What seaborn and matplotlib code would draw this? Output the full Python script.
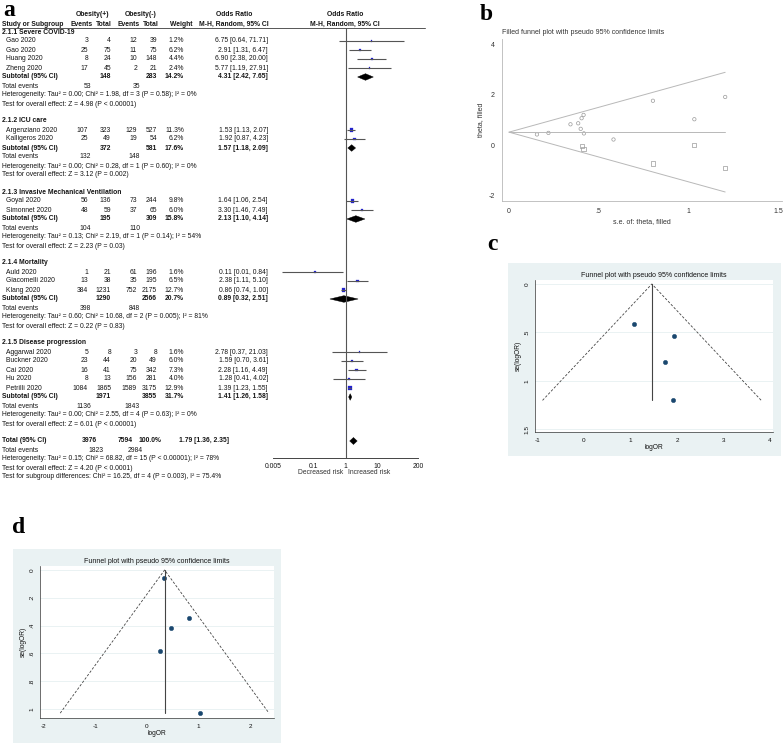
import numpy as np
import pandas as pd
import matplotlib
matplotlib.use("Agg")
import matplotlib.pyplot as plt
import seaborn as sns
from matplotlib.patches import Polygon, Rectangle

sns.set_style("white")
plt.rcParams['font.family'] = ['Liberation Sans', 'DejaVu Sans']

# ---------------- data: forest plot (panel a) ----------------
subgroups = ["2.1.1 Severe COVID-19", "2.1.2 ICU care", "2.1.3 Invasive Mechanical Ventilation",
             "2.1.4 Mortality", "2.1.5 Disease progression"]
studies = ["Gao 2020", "Gao 2020", "Huang 2020", "Zheng 2020", "Argenziano 2020", "Kalligeros 2020",
           "Goyal 2020", "Simonnet 2020", "Auld 2020", "Giacomelli 2020", "Klang 2020",
           "Aggarwal 2020", "Buckner 2020", "Cai 2020", "Hu 2020", "Petrilli 2020"]
study_group = [0, 0, 0, 0, 1, 1, 2, 2, 3, 3, 3, 4, 4, 4, 4, 4]
ev_pos = [3, 25, 8, 17, 107, 25, 56, 48, 1, 13, 384, 5, 23, 16, 8, 1084]
tot_pos = [4, 75, 24, 45, 323, 49, 136, 59, 21, 38, 1231, 8, 44, 41, 13, 1865]
ev_neg = [12, 11, 10, 2, 129, 19, 73, 37, 61, 35, 752, 3, 20, 75, 156, 1589]
tot_neg = [39, 75, 148, 21, 527, 54, 244, 65, 196, 195, 2175, 8, 49, 342, 281, 3175]
weight = [1.2, 6.2, 4.4, 2.4, 11.3, 6.2, 9.8, 6.0, 1.6, 6.5, 12.7, 1.6, 6.0, 7.3, 4.0, 12.9]
or_est = [6.75, 2.91, 6.90, 5.77, 1.53, 1.92, 1.64, 3.30, 0.11, 2.38, 0.86, 2.78, 1.59, 2.28, 1.28, 1.39]
or_lo = [0.64, 1.31, 2.38, 1.19, 1.13, 0.87, 1.06, 1.46, 0.01, 1.11, 0.74, 0.37, 0.70, 1.16, 0.41, 1.23]
or_hi = [71.71, 6.47, 20.00, 27.91, 2.07, 4.23, 2.54, 7.49, 0.84, 5.10, 1.00, 21.03, 3.61, 4.49, 4.02, 1.55]

sub_tot_pos = [148, 372, 195, 1290, 1971]
sub_tot_neg = [283, 581, 309, 2566, 3855]
sub_weight = [14.2, 17.6, 15.8, 20.7, 31.7]
sub_or = [4.31, 1.57, 2.13, 0.89, 1.41]
sub_lo = [2.42, 1.18, 1.10, 0.32, 1.26]
sub_hi = [7.65, 2.09, 4.14, 2.51, 1.58]
sub_ev_pos = [53, 132, 104, 398, 1136]
sub_ev_neg = [35, 148, 110, 848, 1843]
sub_het = ["Tau² = 0.00; Chi² = 1.98, df = 3 (P = 0.58); I² = 0%",
           "Tau² = 0.00; Chi² = 0.28, df = 1 (P = 0.60); I² = 0%",
           "Tau² = 0.13; Chi² = 2.19, df = 1 (P = 0.14); I² = 54%",
           "Tau² = 0.60; Chi² = 10.68, df = 2 (P = 0.005); I² = 81%",
           "Tau² = 0.00; Chi² = 2.55, df = 4 (P = 0.63); I² = 0%"]
sub_z = ["Z = 4.98 (P < 0.00001)", "Z = 3.12 (P = 0.002)", "Z = 2.23 (P = 0.03)",
         "Z = 0.22 (P = 0.83)", "Z = 6.01 (P < 0.00001)"]
total_n = [3976, 7594]
total_events = [1823, 2984]
total_or = [1.79, 1.36, 2.35]
total_het = "Tau² = 0.15; Chi² = 68.82, df = 15 (P < 0.00001); I² = 78%"
total_z = "Z = 4.20 (P < 0.0001)"
subgroup_diff = "Test for subgroup differences: Chi² = 16.25, df = 4 (P = 0.003), I² = 75.4%"
forest_ticks = [0.005, 0.1, 1, 10, 200]
forest_ticklabels = ["0.005", "0.1", "1", "10", "200"]

# ---------------- data: funnel plots ----------------
b_obs_se = [0.156, 0.22, 0.343, 0.386, 0.405, 0.416, 0.40, 0.418, 0.583, 0.803, 1.034, 1.206]
b_obs_theta = [0.43, 0.49, 0.83, 0.87, 1.07, 1.20, 0.65, 0.47, 0.23, 1.76, 1.03, 1.91]
b_fill_se = [0.405, 0.416, 0.803, 1.034, 1.206]
b_fill_theta = [-0.03, -0.16, -0.72, 0.02, -0.88]
b_pooled = 0.52

c_logor = [1.07, 1.93, 1.75, 1.91]
c_se = [0.41, 0.54, 0.80, 1.20]
c_pooled = 1.46

d_logor = [0.33, 0.82, 0.46, 0.25, 1.02]
d_se = [0.06, 0.345, 0.42, 0.58, 1.03]
d_pooled = 0.34

# ---------------- figure ----------------
W, H = 784, 745
fig = plt.figure(figsize=(W / 100, H / 100), dpi=100)


def px_axes(x0, y0, x1, y1):
    return fig.add_axes([x0 / W, 1 - y1 / H, (x1 - x0) / W, (y1 - y0) / H])


ov = px_axes(0, 0, W, H)
ov.set_xlim(0, W)
ov.set_ylim(H, 0)
ov.axis('off')

TXT = '#151515'
FS = 4.85
HFS = 4.85


def t(x, y, s, ha='left', bold=False, color=TXT, fs=FS):
    ov.text(x, y, s, ha=ha, va='center', fontsize=fs, color=color,
            fontweight='bold' if bold else 'normal')


# panel labels
for lab, x, y in [("a", 3, 16), ("b", 480, 20), ("c", 487, 250), ("d", 12, 533)]:
    ov.text(x, y, lab, fontsize=17, fontweight='bold', family=['Liberation Serif', 'DejaVu Serif'],
            va='baseline', ha='left', color='black')

# ---- table columns
X_NAME, X_STUDY = 2, 6
X_EVP, X_TOTP, X_EVN, X_TOTN, X_W, X_OR = 88, 111, 137, 157, 184, 268

# header
t(93, 15, "Obesity(+)", ha='center', bold=True, fs=HFS)
t(141, 15, "Obesity(-)", ha='center', bold=True, fs=HFS)
t(234, 15, "Odds Ratio", ha='center', bold=True, fs=HFS)
t(345, 15, "Odds Ratio", ha='center', bold=True, fs=HFS)
t(X_NAME, 24, "Study or Subgroup", bold=True, fs=HFS)
t(93, 24, "Events", ha='right', bold=True, fs=HFS)
t(X_TOTP + 1, 24, "Total", ha='right', bold=True, fs=HFS)
t(140, 24, "Events", ha='right', bold=True, fs=HFS)
t(X_TOTN + 2, 24, "Total", ha='right', bold=True, fs=HFS)
t(193, 24, "Weight", ha='right', bold=True, fs=HFS)
t(X_OR + 1, 24, "M-H, Random, 95% CI", ha='right', bold=True, fs=HFS)
t(345, 24, "M-H, Random, 95% CI", ha='center', bold=True, fs=HFS)
ov.plot([2, 425], [27.5, 27.5], color='#555555', lw=0.7)

# ---- row layout
rows = []
for g in range(len(subgroups)):
    rows.append(('grp', g))
    rows += [('study', i) for i in range(len(studies)) if study_group[i] == g]
    rows += [('sub', g), ('tev', g), ('het', g), ('z', g), ('blank', None)]
rows += [('total', None), ('ttev', None), ('thet', None), ('tz', None), ('tsub', None)]

STEP, GAP = 9.0, 8.0
ypos = []
y = 32.0
for kind, idx in rows:
    if kind == 'blank':
        y += GAP
        continue
    ypos.append((kind, idx, y))
    y += STEP

# ---- forest axes
axf = px_axes(273, 27.5, 418, 458)
axf.set_xscale('log')
axf.set_xlim(0.005, 200)
axf.set_ylim(458, 27.5)
axf.patch.set_alpha(0)
for sp in ['top', 'right', 'left']:
    axf.spines[sp].set_visible(False)
axf.spines['bottom'].set_color('#444444')
axf.spines['bottom'].set_linewidth(0.7)
axf.set_xticks(forest_ticks)
axf.set_xticklabels(forest_ticklabels)
axf.minorticks_off()
axf.tick_params(axis='x', direction='inout', length=4, width=0.6, color='#444444',
                labelsize=FS, labelcolor=TXT, pad=1.5)
axf.set_yticks([])
axf.axvline(1, color='#555555', lw=0.8)

sq_x, sq_y, sq_w = [], [], []
for kind, idx, y in ypos:
    if kind == 'grp':
        t(X_NAME, y, subgroups[idx], bold=True)
    elif kind == 'study':
        i = idx
        t(X_STUDY, y, studies[i])
        t(X_EVP, y, str(ev_pos[i]), ha='right')
        t(X_TOTP, y, str(tot_pos[i]), ha='right')
        t(X_EVN, y, str(ev_neg[i]), ha='right')
        t(X_TOTN, y, str(tot_neg[i]), ha='right')
        t(X_W, y, f"{weight[i]:.1f}%", ha='right')
        t(X_OR, y, f"{or_est[i]:.2f} [{or_lo[i]:.2f}, {or_hi[i]:.2f}]", ha='right')
        axf.plot([or_lo[i], or_hi[i]], [y, y], color='#555555', lw=0.8, solid_capstyle='butt')
        sq_x.append(or_est[i]); sq_y.append(y); sq_w.append(weight[i])
    elif kind == 'sub':
        g = idx
        t(X_NAME, y, "Subtotal (95% CI)", bold=True)
        t(X_TOTP, y, str(sub_tot_pos[g]), ha='right', bold=True)
        t(X_TOTN, y, str(sub_tot_neg[g]), ha='right', bold=True)
        t(X_W, y, f"{sub_weight[g]:.1f}%", ha='right', bold=True)
        t(X_OR, y, f"{sub_or[g]:.2f} [{sub_lo[g]:.2f}, {sub_hi[g]:.2f}]", ha='right', bold=True)
        axf.add_patch(Polygon([(sub_lo[g], y), (sub_or[g], y - 3.3), (sub_hi[g], y), (sub_or[g], y + 3.3)],
                              closed=True, fc='black', ec='black', lw=0.3))
    elif kind == 'tev':
        t(X_NAME, y, "Total events")
        t(X_EVP + 3, y, str(sub_ev_pos[idx]), ha='right')
        t(X_EVN + 3, y, str(sub_ev_neg[idx]), ha='right')
    elif kind == 'het':
        t(X_NAME, y, "Heterogeneity: " + sub_het[idx])
    elif kind == 'z':
        t(X_NAME, y, "Test for overall effect: " + sub_z[idx])
    elif kind == 'total':
        t(X_NAME, y, "Total (95% CI)", bold=True)
        t(97, y, str(total_n[0]), ha='right', bold=True)
        t(133, y, str(total_n[1]), ha='right', bold=True)
        t(161, y, "100.0%", ha='right', bold=True)
        t(229, y, f"{total_or[0]:.2f} [{total_or[1]:.2f}, {total_or[2]:.2f}]", ha='right', bold=True)
        axf.add_patch(Polygon([(total_or[1], y), (total_or[0], y - 3.5), (total_or[2], y),
                               (total_or[0], y + 3.5)], closed=True, fc='black', ec='black', lw=0.3))
    elif kind == 'ttev':
        t(X_NAME, y, "Total events")
        t(103, y, str(total_events[0]), ha='right')
        t(143, y, str(total_events[1]), ha='right')
    elif kind == 'thet':
        t(X_NAME, y, "Heterogeneity: " + total_het)
    elif kind == 'tz':
        t(X_NAME, y, "Test for overall effect: " + total_z)
    elif kind == 'tsub':
        t(X_NAME, y, subgroup_diff)

sq_df = pd.DataFrame({"or": sq_x, "y": sq_y, "w": sq_w})
sns.scatterplot(data=sq_df, x="or", y="y", size="w", sizes=(1.5, 6), marker='s',
                color='#2222cc', edgecolor='#2222cc', linewidth=0.2, legend=False, ax=axf)
axf.set_xlabel(""); axf.set_ylabel("")
t(343, 473, "Decreased risk", ha='right', color='#333333')
t(348, 473, "Increased risk", ha='left', color='#333333')

# ---------------- panel b ----------------
axb = px_axes(502, 39, 782, 201)
axb.set_xlim(-0.039, 1.523)
axb.set_ylim(-2.2, 4.2)
GR = '#9a9a9a'
LGR = '#b8b8b8'
se_max_b = max(b_obs_se)
axb.plot([0, se_max_b], [b_pooled, b_pooled + 1.96 * se_max_b], color=LGR, lw=0.7)
axb.plot([0, se_max_b], [b_pooled, b_pooled - 1.96 * se_max_b], color=LGR, lw=0.7)
axb.plot([0, se_max_b], [b_pooled, b_pooled], color=LGR, lw=0.7)
sns.scatterplot(x=b_obs_se, y=b_obs_theta, marker='o', s=6, color=GR, linewidth=0.5, legend=False, ax=axb)
axb.collections[-1].set_facecolor('none')
axb.collections[-1].set_edgecolor(GR)
sns.scatterplot(x=b_fill_se, y=b_fill_theta, marker='s', s=9, color=GR, linewidth=0.5, legend=False, ax=axb)
axb.collections[-1].set_facecolor('none')
axb.collections[-1].set_edgecolor(GR)
for sp in ['top', 'right']:
    axb.spines[sp].set_visible(False)
for sp in ['left', 'bottom']:
    axb.spines[sp].set_color(LGR)
    axb.spines[sp].set_linewidth(0.6)
axb.set_xticks([0, 0.5, 1, 1.5])
axb.set_xticklabels(["0", ".5", "1", "1.5"])
axb.set_yticks([-2, 0, 2, 4])
axb.set_yticklabels(["-2", "0", "2", "4"])
axb.tick_params(direction='out', length=3, width=0.5, color=LGR, labelsize=5, labelcolor='#333333', pad=2)
axb.set_xlabel("s.e. of: theta, filled", fontsize=5, color='#333333', labelpad=2)
axb.set_ylabel("theta, filled", fontsize=5, color='#333333', labelpad=3)
ov.text(502, 32, "Filled funnel plot with pseudo 95% confidence limits", fontsize=5,
        color='#333333', ha='left', va='center')

# ---------------- panels c, d (Stata style) ----------------
SBG = '#eaf2f3'
NAVY = '#1a476f'


def stata_panel(box, region, xlim, ylim, xticks, xtl, yticks, ytl, logor, se, pooled, title):
    x0, y0, x1, y1 = box
    ov.add_patch(Rectangle((x0, y0), x1 - x0, y1 - y0, fc=SBG, ec='none', zorder=0))
    ax = px_axes(*region)
    ax.set_facecolor('white')
    ax.set_xlim(*xlim)
    ax.set_ylim(*ylim)
    for yt in yticks:
        ax.axhline(yt, color=SBG, lw=0.7, zorder=0)
    semax = max(se)
    ax.plot([pooled - 1.96 * semax, pooled, pooled + 1.96 * semax], [semax, 0, semax],
            ls=(0, (3, 2)), color='#444444', lw=0.6)
    ax.plot([pooled, pooled], [0, semax], color='#444444', lw=0.8)
    sns.scatterplot(x=logor, y=se, s=10, color=NAVY, edgecolor=NAVY, linewidth=0.3, legend=False, ax=ax)
    for sp in ['top', 'right']:
        ax.spines[sp].set_visible(False)
    for sp in ['left', 'bottom']:
        ax.spines[sp].set_color('#333333')
        ax.spines[sp].set_linewidth(0.5)
    ax.set_xticks(xticks)
    ax.set_xticklabels(xtl)
    ax.set_yticks(yticks)
    ax.set_yticklabels(ytl, rotation=90, va='center')
    ax.tick_params(direction='out', length=2.5, width=0.5, color='#333333', labelsize=4.6,
                   labelcolor='#111111', pad=1.5)
    ax.set_xlabel("logOR", fontsize=4.8, color='#111111', labelpad=1)
    ax.set_ylabel("se(logOR)", fontsize=4.8, color='#111111', labelpad=2)
    ax.set_title(title, fontsize=5, color='#111111', pad=2)
    return ax


stata_panel((508, 263, 781, 456), (535, 280, 773, 432), (-1.054, 4.065), (1.526, -0.041),
            [-1, 0, 1, 2, 3, 4], ["-1", "0", "1", "2", "3", "4"],
            [0, 0.5, 1, 1.5], ["0", ".5", "1", "1.5"],
            c_logor, c_se, c_pooled, "Funnel plot with pseudo 95% confidence limits")

stata_panel((13, 549, 281, 743), (40, 566, 274, 718), (-2.07, 2.456), (1.065, -0.029),
            [-2, -1, 0, 1, 2], ["-2", "-1", "0", "1", "2"],
            [0, 0.2, 0.4, 0.6, 0.8, 1], ["0", ".2", ".4", ".6", ".8", "1"],
            d_logor, d_se, d_pooled, "Funnel plot with pseudo 95% confidence limits")

fig.savefig("out.png", dpi=100)
